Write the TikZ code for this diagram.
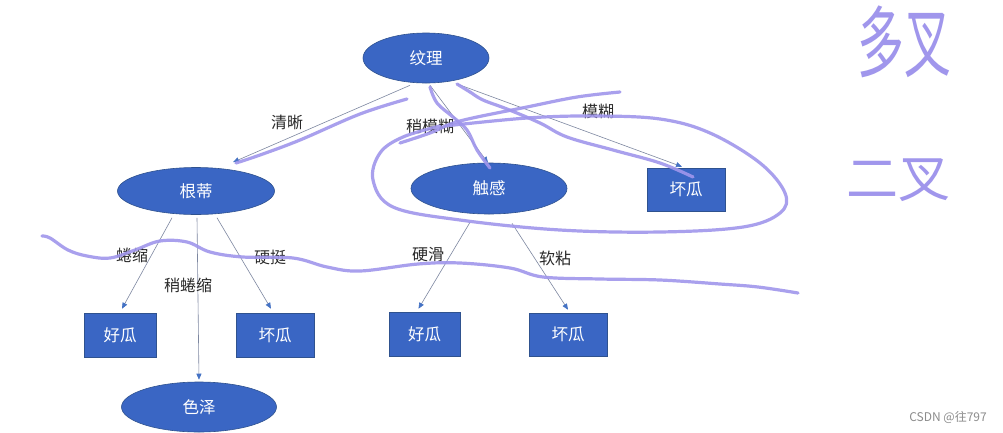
\documentclass[tikz,border=0pt]{standalone}
\usepackage{fontspec}
\setmainfont{Noto Sans CJK SC}
\newfontfamily\cjk{Noto Sans CJK SC}
\usetikzlibrary{shapes.geometric,arrows.meta}
\definecolor{nodeblue}{RGB}{58,102,196}
\definecolor{nodeedge}{RGB}{47,82,143}
\definecolor{connline}{RGB}{125,135,160}
\definecolor{tipblue}{RGB}{68,114,196}
\definecolor{pen}{RGB}{160,150,236}
\definecolor{labeltext}{RGB}{40,40,40}
\tikzset{
  attr/.style={ellipse, draw=nodeedge, line width=0.6pt, fill=nodeblue, text=white,
    inner sep=0pt, font=\cjk\fontsize{16.5}{17}\selectfont},
  leaf/.style={rectangle, draw=nodeedge, line width=0.6pt, fill=nodeblue, text=white,
    inner sep=0pt, font=\cjk\fontsize{16.5}{17}\selectfont},
  conn/.style={draw=connline, line width=0.6pt,
    -{Triangle[length=6pt,width=5pt,color=tipblue]}},
  elabel/.style={text=labeltext, inner sep=0pt, font=\cjk\fontsize{16}{16}\selectfont},
  penstroke/.style={draw=pen, line width=3.2pt, line cap=round, line join=round, opacity=0.9},
  handtext/.style={text=pen, inner sep=0pt, font=\cjk\fontsize{52}{52}\selectfont},
  mark text/.style={text=black!45, inner sep=0pt, font=\cjk\fontsize{12}{12}\selectfont}
}
\begin{document}
\begin{tikzpicture}[x=1pt,y=-1pt]
\useasboundingbox[fill=white] (0,0) rectangle (1003,432);

% nodes
\node[attr, minimum width=126pt, minimum height=50pt] (wl) at (426,58) {纹理};
\node[attr, minimum width=157pt, minimum height=47pt] (gd) at (196,191) {根蒂};
\node[attr, minimum width=156pt, minimum height=51pt] (ck) at (489,188.5) {触感};
\node[leaf, minimum width=78pt, minimum height=43pt] (bad1) at (686,189.5) {坏瓜};
\node[leaf, minimum width=72pt, minimum height=44pt] (good2) at (120,335) {好瓜};
\node[leaf, minimum width=78pt, minimum height=44pt] (bad2) at (275,335) {坏瓜};
\node[leaf, minimum width=71pt, minimum height=44pt] (good3) at (424.5,334) {好瓜};
\node[leaf, minimum width=78pt, minimum height=43pt] (bad3) at (568,334.5) {坏瓜};
\node[attr, minimum width=155pt, minimum height=50pt] (sz) at (199,407) {色泽};

% connectors
\draw[conn] ([shift={(-16,2)}]wl.south) -- ([shift={(37,-5)}]gd.north);
\draw[conn] ([shift={(4,2)}]wl.south) -- ([shift={(-1,0)}]ck.north);
\draw[conn] ([shift={(32,1)}]wl.south) -- ([shift={(-4,-1)}]bad1.north);
\draw[conn] ([shift={(-24,3)}]gd.south) -- ([shift={(2,-4)}]good2.north);
\draw[conn] ([shift={(1,3)}]gd.south) -- ([shift={(0,-2)}]sz.north);
\draw[conn] ([shift={(21,3)}]gd.south) -- ([shift={(-4,-4)}]bad2.north);
\draw[conn] ([shift={(-19,8)}]ck.south) -- ([shift={(-6,-3)}]good3.north);
\draw[conn] ([shift={(23,9)}]ck.south) -- ([shift={(0,-3)}]bad3.north);

% edge labels
\node[elabel] (l1) at (287,122) {清晰};
\node[elabel] (l2) at (430,127) {稍模糊};
\node[elabel] (l3) at (598,112) {模糊};
\node[elabel] (l4) at (132,255) {蜷缩};
\node[elabel] (l5) at (188,285) {稍蜷缩};
\node[elabel] (l6) at (270,257) {硬挺};
\node[elabel] (l7) at (428,255) {硬滑};
\node[elabel] (l8) at (555,258) {软粘};

% handwritten pen strokes
\draw[penstroke] plot[smooth, tension=0.6] coordinates {(407,99) (360,114) (300,140) (260,155) (236,163)};
\draw[penstroke] plot[smooth, tension=0.6] coordinates {(430,87) (437,103) (453,117) (467,130) (477,150) (490,168)};
\draw[penstroke] plot[smooth, tension=0.6] coordinates {(457,84) (470,92) (483,100) (507,109) (540,123) (567,137) (613,150) (660,163) (693,177)};
\draw[penstroke] plot[smooth, tension=0.6] coordinates {(400,143) (430,133) (460,121) (527,107) (577,97) (620,92)};
\draw[penstroke] plot[smooth, tension=0.6] coordinates {(445,126) (527,118) (593,116) (660,119) (710,133) (760,163) (785,193) (780,213) (743,227) (660,232) (560,230) (460,220) (393,207) (373,180) (380,153) (403,137) (440,126)};
\draw[penstroke] plot[smooth, tension=0.6] coordinates {(42,236) (50,238) (68,250) (87,256) (110,258) (135,250) (160,241) (187,242) (210,252) (243,257) (293,258) (327,267) (360,271) (418,264) (460,263) (510,268) (543,277) (600,279) (660,280) (720,284) (758,287) (798,293)};

% handwritten words
\node[handtext, xscale=0.9, yscale=1.5] (duo) at (904,42) {多叉};
\node[handtext] (er) at (898,180) {二叉};

% watermark
\node[mark text] (wm) at (948,417) {CSDN @往797};
\end{tikzpicture}
\end{document}
